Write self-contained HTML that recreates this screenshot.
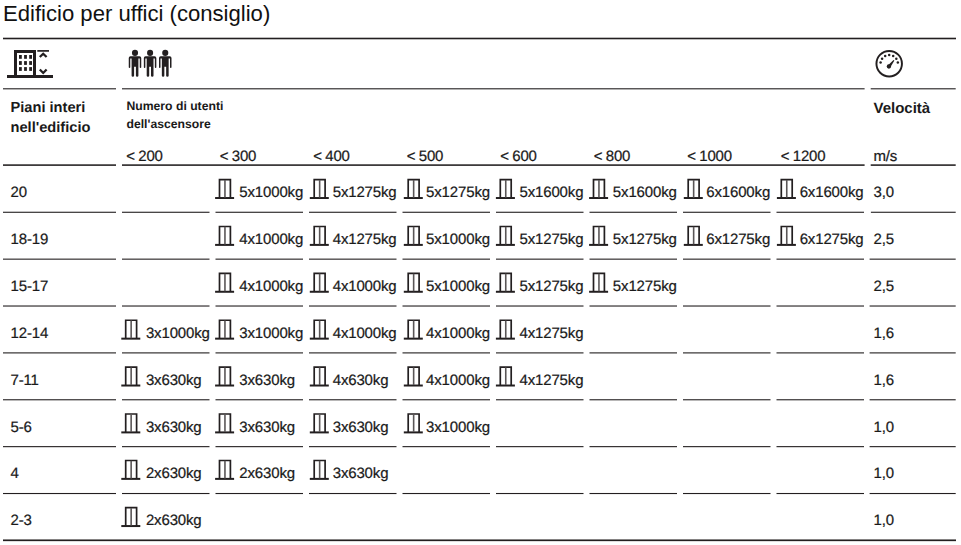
<!DOCTYPE html>
<html><head><meta charset="utf-8"><title>Edificio per uffici</title>
<style>
html,body{margin:0;padding:0;background:#fff;}
body{width:961px;height:545px;position:relative;overflow:hidden;font-family:"Liberation Sans",sans-serif;color:#1a1a1a;}
.t{position:absolute;white-space:nowrap;line-height:1;}
.n{font-size:15px;text-rendering:geometricPrecision;-webkit-text-stroke:0.22px #1a1a1a;letter-spacing:-0.15px;}
.b{font-weight:bold;text-rendering:geometricPrecision;}
svg{position:absolute;left:0;top:0;overflow:visible;}
</style></head><body>

<div class="t" style="left:2.9px;top:2.7px;font-size:21.6px;color:#111;transform-origin:0 0;transform:scaleX(1.023);">Edificio per uffici (consiglio)</div>
<div class="t b" style="left:10.5px;top:98.2px;font-size:14.65px;line-height:20px;white-space:pre;">Piani interi
nell'edificio</div>
<div class="t b" style="left:126.5px;top:97px;font-size:12.2px;line-height:18px;white-space:pre;">Numero di utenti
dell'ascensore</div>
<div class="t b" style="left:873.5px;top:100.8px;font-size:15px;">Velocità</div>
<div class="t n" style="left:126.3px;top:148.9px;word-spacing:-0.7px;">&lt; 200</div>
<div class="t n" style="left:219.8px;top:148.9px;word-spacing:-0.7px;">&lt; 300</div>
<div class="t n" style="left:313.3px;top:148.9px;word-spacing:-0.7px;">&lt; 400</div>
<div class="t n" style="left:406.8px;top:148.9px;word-spacing:-0.7px;">&lt; 500</div>
<div class="t n" style="left:500.3px;top:148.9px;word-spacing:-0.7px;">&lt; 600</div>
<div class="t n" style="left:593.8px;top:148.9px;word-spacing:-0.7px;">&lt; 800</div>
<div class="t n" style="left:687.3px;top:148.9px;word-spacing:-0.7px;">&lt; 1000</div>
<div class="t n" style="left:780.8px;top:148.9px;word-spacing:-0.7px;">&lt; 1200</div>
<div class="t n" style="left:873.5px;top:148.9px;">m/s</div>
<svg width="961" height="545" viewBox="0 0 961 545">
<defs>
<g id="el"><path d="M-0.7 0H18.3" stroke="#231f20" stroke-width="2" fill="none"/><path d="M3.7 0V-18.4H14.6V0" stroke="#231f20" stroke-width="1.7" fill="none"/><path d="M9.15 -18.1V-0.5" stroke="#5a5657" stroke-width="1.6" fill="none"/></g>
<g id="man"><circle cx="0" cy="-11.9" r="3.05"/><path d="M-6.25 -6.7q0 -1.8 1.8 -1.8h8.9q1.8 0 1.8 1.8v9.1q0 .7 -.75 .7t-.75 -.7v-8.8h-1.35v17.4q0 .9 -1.25 .9t-1.25 -.9v-9.1h-1.8v9.1q0 .9 -1.25 .9t-1.25 -.9v-17.4h-1.35v8.8q0 .7 -.75 .7t-.75 -.7z"/></g>
</defs>
<rect x="3.00" y="37.70" width="953.00" height="1.60" fill="#231f20"/>
<rect x="3.00" y="88.25" width="113.00" height="1.10" fill="#231f20"/>
<rect x="122.00" y="88.25" width="742.60" height="1.10" fill="#231f20"/>
<rect x="870.70" y="88.25" width="85.00" height="1.10" fill="#231f20"/>
<rect x="3.00" y="164.32" width="113.00" height="1.55" fill="#231f20"/>
<rect x="122.00" y="164.32" width="742.60" height="1.55" fill="#231f20"/>
<rect x="870.70" y="164.32" width="85.00" height="1.55" fill="#231f20"/>
<rect x="3.00" y="211.72" width="113.00" height="1.10" fill="#231f20"/>
<rect x="122.00" y="211.72" width="87.50" height="1.10" fill="#231f20"/>
<rect x="215.50" y="211.72" width="87.50" height="1.10" fill="#231f20"/>
<rect x="309.00" y="211.72" width="87.50" height="1.10" fill="#231f20"/>
<rect x="402.50" y="211.72" width="87.50" height="1.10" fill="#231f20"/>
<rect x="496.00" y="211.72" width="87.50" height="1.10" fill="#231f20"/>
<rect x="589.50" y="211.72" width="87.50" height="1.10" fill="#231f20"/>
<rect x="683.00" y="211.72" width="87.50" height="1.10" fill="#231f20"/>
<rect x="776.50" y="211.72" width="87.50" height="1.10" fill="#231f20"/>
<rect x="870.90" y="211.72" width="84.80" height="1.10" fill="#231f20"/>
<rect x="3.00" y="258.60" width="113.00" height="1.10" fill="#231f20"/>
<rect x="122.00" y="258.60" width="87.50" height="1.10" fill="#231f20"/>
<rect x="215.50" y="258.60" width="87.50" height="1.10" fill="#231f20"/>
<rect x="309.00" y="258.60" width="87.50" height="1.10" fill="#231f20"/>
<rect x="402.50" y="258.60" width="87.50" height="1.10" fill="#231f20"/>
<rect x="496.00" y="258.60" width="87.50" height="1.10" fill="#231f20"/>
<rect x="589.50" y="258.60" width="87.50" height="1.10" fill="#231f20"/>
<rect x="683.00" y="258.60" width="87.50" height="1.10" fill="#231f20"/>
<rect x="776.50" y="258.60" width="87.50" height="1.10" fill="#231f20"/>
<rect x="869.60" y="258.60" width="86.10" height="1.10" fill="#231f20"/>
<rect x="3.00" y="305.47" width="113.00" height="1.10" fill="#231f20"/>
<rect x="122.00" y="305.47" width="87.50" height="1.10" fill="#231f20"/>
<rect x="215.50" y="305.47" width="87.50" height="1.10" fill="#231f20"/>
<rect x="309.00" y="305.47" width="87.50" height="1.10" fill="#231f20"/>
<rect x="402.50" y="305.47" width="87.50" height="1.10" fill="#231f20"/>
<rect x="496.00" y="305.47" width="87.50" height="1.10" fill="#231f20"/>
<rect x="589.50" y="305.47" width="87.50" height="1.10" fill="#231f20"/>
<rect x="683.00" y="305.47" width="87.50" height="1.10" fill="#231f20"/>
<rect x="776.50" y="305.47" width="87.50" height="1.10" fill="#231f20"/>
<rect x="869.60" y="305.47" width="86.10" height="1.10" fill="#231f20"/>
<rect x="3.00" y="352.35" width="113.00" height="1.10" fill="#231f20"/>
<rect x="122.00" y="352.35" width="87.50" height="1.10" fill="#231f20"/>
<rect x="215.50" y="352.35" width="87.50" height="1.10" fill="#231f20"/>
<rect x="309.00" y="352.35" width="87.50" height="1.10" fill="#231f20"/>
<rect x="402.50" y="352.35" width="87.50" height="1.10" fill="#231f20"/>
<rect x="496.00" y="352.35" width="87.50" height="1.10" fill="#231f20"/>
<rect x="589.50" y="352.35" width="87.50" height="1.10" fill="#231f20"/>
<rect x="683.00" y="352.35" width="87.50" height="1.10" fill="#231f20"/>
<rect x="776.50" y="352.35" width="87.50" height="1.10" fill="#231f20"/>
<rect x="869.60" y="352.35" width="86.10" height="1.10" fill="#231f20"/>
<rect x="3.00" y="399.22" width="113.00" height="1.10" fill="#231f20"/>
<rect x="122.00" y="399.22" width="87.50" height="1.10" fill="#231f20"/>
<rect x="215.50" y="399.22" width="87.50" height="1.10" fill="#231f20"/>
<rect x="309.00" y="399.22" width="87.50" height="1.10" fill="#231f20"/>
<rect x="402.50" y="399.22" width="87.50" height="1.10" fill="#231f20"/>
<rect x="496.00" y="399.22" width="87.50" height="1.10" fill="#231f20"/>
<rect x="589.50" y="399.22" width="87.50" height="1.10" fill="#231f20"/>
<rect x="683.00" y="399.22" width="87.50" height="1.10" fill="#231f20"/>
<rect x="776.50" y="399.22" width="87.50" height="1.10" fill="#231f20"/>
<rect x="869.60" y="399.22" width="86.10" height="1.10" fill="#231f20"/>
<rect x="3.00" y="446.10" width="113.00" height="1.10" fill="#231f20"/>
<rect x="122.00" y="446.10" width="87.50" height="1.10" fill="#231f20"/>
<rect x="215.50" y="446.10" width="87.50" height="1.10" fill="#231f20"/>
<rect x="309.00" y="446.10" width="87.50" height="1.10" fill="#231f20"/>
<rect x="402.50" y="446.10" width="87.50" height="1.10" fill="#231f20"/>
<rect x="496.00" y="446.10" width="87.50" height="1.10" fill="#231f20"/>
<rect x="589.50" y="446.10" width="87.50" height="1.10" fill="#231f20"/>
<rect x="683.00" y="446.10" width="87.50" height="1.10" fill="#231f20"/>
<rect x="776.50" y="446.10" width="87.50" height="1.10" fill="#231f20"/>
<rect x="869.60" y="446.10" width="86.10" height="1.10" fill="#231f20"/>
<rect x="3.00" y="492.97" width="113.00" height="1.10" fill="#231f20"/>
<rect x="122.00" y="492.97" width="87.50" height="1.10" fill="#231f20"/>
<rect x="215.50" y="492.97" width="87.50" height="1.10" fill="#231f20"/>
<rect x="309.00" y="492.97" width="87.50" height="1.10" fill="#231f20"/>
<rect x="402.50" y="492.97" width="87.50" height="1.10" fill="#231f20"/>
<rect x="496.00" y="492.97" width="87.50" height="1.10" fill="#231f20"/>
<rect x="589.50" y="492.97" width="87.50" height="1.10" fill="#231f20"/>
<rect x="683.00" y="492.97" width="87.50" height="1.10" fill="#231f20"/>
<rect x="776.50" y="492.97" width="87.50" height="1.10" fill="#231f20"/>
<rect x="869.60" y="492.97" width="86.10" height="1.10" fill="#231f20"/>
<rect x="3.00" y="539.45" width="953.00" height="1.70" fill="#231f20"/>
<rect x="7" y="75" width="46" height="3" fill="#231f20"/>
<path d="M15.5 75V51.5H34.5V75" fill="none" stroke="#231f20" stroke-width="3"/>
<rect x="19" y="55" width="2.8" height="3.8" fill="#231f20"/>
<rect x="19" y="61.1" width="2.8" height="3.8" fill="#231f20"/>
<rect x="19" y="67.1" width="2.8" height="3.8" fill="#231f20"/>
<rect x="24.1" y="55" width="2.8" height="3.8" fill="#231f20"/>
<rect x="24.1" y="61.1" width="2.8" height="3.8" fill="#231f20"/>
<rect x="24.1" y="67.1" width="2.8" height="3.8" fill="#231f20"/>
<rect x="29.2" y="55" width="2.8" height="3.8" fill="#231f20"/>
<rect x="29.2" y="61.1" width="2.8" height="3.8" fill="#231f20"/>
<rect x="29.2" y="67.1" width="2.8" height="3.8" fill="#231f20"/>
<path d="M37.3 50.9H49" stroke="#231f20" stroke-width="1.7" fill="none"/>
<path d="M39.8 57.0L43.2 53.75L46.6 57.0" stroke="#231f20" stroke-width="2.3" fill="none"/>
<path d="M39.8 69.5L43.2 72.95L46.6 69.5" stroke="#231f20" stroke-width="2.3" fill="none"/>
<use href="#man" x="135" y="64.8" fill="#231f20"/>
<use href="#man" x="150.1" y="64.8" fill="#231f20"/>
<use href="#man" x="165.25" y="64.8" fill="#231f20"/>
<circle cx="889.2" cy="63.7" r="12.75" fill="none" stroke="#231f20" stroke-width="1.95"/>
<circle cx="880.58" cy="62.49" r="1.25" fill="#231f20"/>
<circle cx="882.10" cy="58.67" r="1.25" fill="#231f20"/>
<circle cx="885.21" cy="55.97" r="1.25" fill="#231f20"/>
<circle cx="889.20" cy="55.00" r="1.25" fill="#231f20"/>
<circle cx="893.19" cy="55.97" r="1.25" fill="#231f20"/>
<circle cx="896.30" cy="58.67" r="1.25" fill="#231f20"/>
<circle cx="897.82" cy="62.49" r="1.25" fill="#231f20"/>
<circle cx="888.9" cy="66.5" r="2.15" fill="#231f20"/>
<path d="M887.8 65.6L893.5 59.9L894.4 60.5L890.2 67.5Z" fill="#231f20"/>
<use href="#el" x="215.80" y="198.03"/>
<use href="#el" x="310.50" y="198.03"/>
<use href="#el" x="404.50" y="198.03"/>
<use href="#el" x="496.60" y="198.03"/>
<use href="#el" x="589.80" y="198.03"/>
<use href="#el" x="684.50" y="198.03"/>
<use href="#el" x="777.60" y="198.03"/>
<use href="#el" x="215.80" y="244.90"/>
<use href="#el" x="310.50" y="244.90"/>
<use href="#el" x="404.50" y="244.90"/>
<use href="#el" x="496.60" y="244.90"/>
<use href="#el" x="589.80" y="244.90"/>
<use href="#el" x="684.50" y="244.90"/>
<use href="#el" x="777.60" y="244.90"/>
<use href="#el" x="215.80" y="291.77"/>
<use href="#el" x="310.50" y="291.77"/>
<use href="#el" x="404.50" y="291.77"/>
<use href="#el" x="496.60" y="291.77"/>
<use href="#el" x="589.80" y="291.77"/>
<use href="#el" x="122.00" y="338.65"/>
<use href="#el" x="215.80" y="338.65"/>
<use href="#el" x="310.50" y="338.65"/>
<use href="#el" x="404.50" y="338.65"/>
<use href="#el" x="496.60" y="338.65"/>
<use href="#el" x="122.00" y="385.52"/>
<use href="#el" x="215.80" y="385.52"/>
<use href="#el" x="310.50" y="385.52"/>
<use href="#el" x="404.50" y="385.52"/>
<use href="#el" x="496.60" y="385.52"/>
<use href="#el" x="122.00" y="432.40"/>
<use href="#el" x="215.80" y="432.40"/>
<use href="#el" x="310.50" y="432.40"/>
<use href="#el" x="404.50" y="432.40"/>
<use href="#el" x="122.00" y="478.88"/>
<use href="#el" x="215.80" y="478.88"/>
<use href="#el" x="310.50" y="478.88"/>
<use href="#el" x="122.00" y="526.05"/>
</svg>
<div class="t n" style="left:10.5px;top:185.3px;">20</div>
<div class="t n" style="left:873.5px;top:185.3px;">3,0</div>
<div class="t n" style="left:239.29px;top:185.3px;">5x1000kg</div>
<div class="t n" style="left:332.69px;top:185.3px;">5x1275kg</div>
<div class="t n" style="left:426.08px;top:185.3px;">5x1275kg</div>
<div class="t n" style="left:519.47px;top:185.3px;">5x1600kg</div>
<div class="t n" style="left:612.87px;top:185.3px;">5x1600kg</div>
<div class="t n" style="left:706.26px;top:185.3px;">6x1600kg</div>
<div class="t n" style="left:799.65px;top:185.3px;">6x1600kg</div>
<div class="t n" style="left:10.5px;top:232.2px;">18-19</div>
<div class="t n" style="left:873.5px;top:232.2px;">2,5</div>
<div class="t n" style="left:239.29px;top:232.2px;">4x1000kg</div>
<div class="t n" style="left:332.69px;top:232.2px;">4x1275kg</div>
<div class="t n" style="left:426.08px;top:232.2px;">5x1000kg</div>
<div class="t n" style="left:519.47px;top:232.2px;">5x1275kg</div>
<div class="t n" style="left:612.87px;top:232.2px;">5x1275kg</div>
<div class="t n" style="left:706.26px;top:232.2px;">6x1275kg</div>
<div class="t n" style="left:799.65px;top:232.2px;">6x1275kg</div>
<div class="t n" style="left:10.5px;top:279.1px;">15-17</div>
<div class="t n" style="left:873.5px;top:279.1px;">2,5</div>
<div class="t n" style="left:239.29px;top:279.1px;">4x1000kg</div>
<div class="t n" style="left:332.69px;top:279.1px;">4x1000kg</div>
<div class="t n" style="left:426.08px;top:279.1px;">5x1000kg</div>
<div class="t n" style="left:519.47px;top:279.1px;">5x1275kg</div>
<div class="t n" style="left:612.87px;top:279.1px;">5x1275kg</div>
<div class="t n" style="left:10.5px;top:325.9px;">12-14</div>
<div class="t n" style="left:873.5px;top:325.9px;">1,6</div>
<div class="t n" style="left:145.90px;top:325.9px;">3x1000kg</div>
<div class="t n" style="left:239.29px;top:325.9px;">3x1000kg</div>
<div class="t n" style="left:332.69px;top:325.9px;">4x1000kg</div>
<div class="t n" style="left:426.08px;top:325.9px;">4x1000kg</div>
<div class="t n" style="left:519.47px;top:325.9px;">4x1275kg</div>
<div class="t n" style="left:10.5px;top:372.8px;">7-11</div>
<div class="t n" style="left:873.5px;top:372.8px;">1,6</div>
<div class="t n" style="left:145.90px;top:372.8px;">3x630kg</div>
<div class="t n" style="left:239.29px;top:372.8px;">3x630kg</div>
<div class="t n" style="left:332.69px;top:372.8px;">4x630kg</div>
<div class="t n" style="left:426.08px;top:372.8px;">4x1000kg</div>
<div class="t n" style="left:519.47px;top:372.8px;">4x1275kg</div>
<div class="t n" style="left:10.5px;top:419.7px;">5-6</div>
<div class="t n" style="left:873.5px;top:419.7px;">1,0</div>
<div class="t n" style="left:145.90px;top:419.7px;">3x630kg</div>
<div class="t n" style="left:239.29px;top:419.7px;">3x630kg</div>
<div class="t n" style="left:332.69px;top:419.7px;">3x630kg</div>
<div class="t n" style="left:426.08px;top:419.7px;">3x1000kg</div>
<div class="t n" style="left:10.5px;top:465.6px;">4</div>
<div class="t n" style="left:873.5px;top:465.6px;">1,0</div>
<div class="t n" style="left:145.90px;top:465.6px;">2x630kg</div>
<div class="t n" style="left:239.29px;top:465.6px;">2x630kg</div>
<div class="t n" style="left:332.69px;top:465.6px;">3x630kg</div>
<div class="t n" style="left:10.5px;top:513.3px;">2-3</div>
<div class="t n" style="left:873.5px;top:513.3px;">1,0</div>
<div class="t n" style="left:145.90px;top:513.3px;">2x630kg</div>
</body></html>
